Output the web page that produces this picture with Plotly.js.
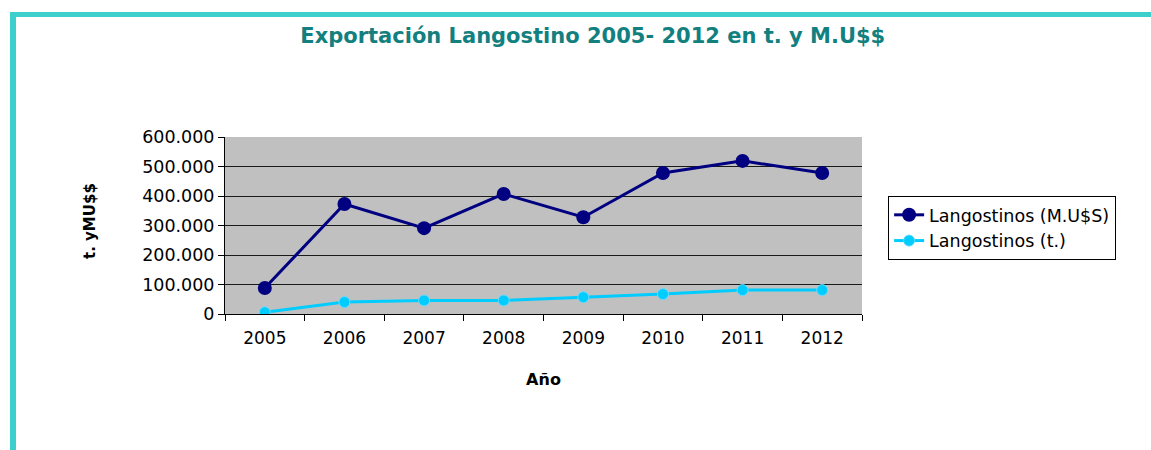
<!DOCTYPE html>
<html>
<head>
<meta charset="utf-8">
<script src="https://cdn.plot.ly/plotly-3.0.1.min.js"></script>
<style>
  html, body { margin: 0; padding: 0; background: #fff; }
  #wrap { position: relative; width: 1151px; height: 450px; overflow: hidden; }
  #frame { position: absolute; left: 10px; top: 12px; width: 1200px; height: 500px;
           border-top: 5px solid #3ccfcb; border-left: 6px solid #3ccfcb; box-sizing: border-box; }
  #chart { position: absolute; left: 0; top: 0; width: 1151px; height: 450px; }
</style>
</head>
<body>
<div id="wrap">
  <div id="frame"></div>
  <div id="chart"></div>
</div>
<script>
const years = ['2005', '2006', '2007', '2008', '2009', '2010', '2011', '2012'];
const musd = [88000, 373000, 291000, 407000, 328000, 478000, 519000, 478000];
const tons = [5700, 40500, 46000, 46000, 57000, 67500, 81000, 81000];
const seriesNames = ['Langostinos (M.U$S)', 'Langostinos (t.)'];
const titleText = 'Exportación Langostino 2005- 2012 en t. y M.U$$';
const yTitle = 't. yMU$$';
const xTitle = 'Año';

const FONT = '"DejaVu Sans", Verdana, sans-serif';

const traces = [
  {
    x: years, y: musd, name: seriesNames[0], type: 'scatter', mode: 'lines+markers',
    legendgroup: 'a',
    line: { color: '#000080', width: 3 },
    marker: { color: '#000080', size: 14 }
  },
  {
    x: years, y: tons, name: seriesNames[1], type: 'scatter', mode: 'lines+markers',
    legendgroup: 'b',
    line: { color: '#00ccff', width: 3 },
    marker: { color: '#00ccff', size: 11, line: { color: '#66ddff', width: 1 } }
  }
];

const layout = {
  width: 1151, height: 450,
  paper_bgcolor: 'rgba(0,0,0,0)',
  plot_bgcolor: '#c0c0c0',
  separators: ',.',
  font: { family: FONT, size: 17, color: '#000' },
  margin: { l: 225, r: 289, t: 137, b: 136 },
  title: {
    text: '<b>' + titleText + '</b>',
    font: { family: FONT, size: 21, color: '#12807f' },
    x: 0.515, xref: 'container', xanchor: 'center',
    y: 0.92, yref: 'container', yanchor: 'middle'
  },
  xaxis: {
    type: 'category', range: [-0.5, 7.5],
    showline: true, linecolor: '#000', linewidth: 1, mirror: false,
    ticks: 'outside', tickson: 'boundaries', ticklen: 6, tickcolor: '#000',
    ticklabelstandoff: 9,
    showgrid: false, zeroline: false,
    tickfont: { family: FONT, size: 17, color: '#000' },
    title: { text: '<b>' + xTitle + '</b>', font: { family: FONT, size: 16, color: '#000' }, standoff: 26 }
  },
  yaxis: {
    range: [0, 600000], dtick: 100000, tickformat: ',d',
    showline: true, linecolor: '#000', linewidth: 1,
    ticks: 'outside', ticklen: 6, tickcolor: '#000',
    showgrid: true, gridcolor: '#1a1a1a', gridwidth: 1, zeroline: false,
    tickfont: { family: FONT, size: 17.5, color: '#000' }
  },
  showlegend: true,
  legend: {
    x: 1.041, xanchor: 'left', y: 0.667, yanchor: 'top',
    bordercolor: '#000', borderwidth: 1, bgcolor: '#fff',
    font: { family: FONT, size: 17.5, color: '#000' },
    traceorder: 'grouped', tracegroupgap: 0
  },
  annotations: [
    {
      text: '<b>' + yTitle + '</b>', textangle: -90,
      xref: 'paper', yref: 'paper', x: -0.212, y: 0.525,
      xanchor: 'center', yanchor: 'middle', showarrow: false,
      font: { family: FONT, size: 15, color: '#000' }
    }
  ]
};

Plotly.newPlot('chart', traces, layout, { displayModeBar: false, staticPlot: true });
</script>
</body>
</html>
